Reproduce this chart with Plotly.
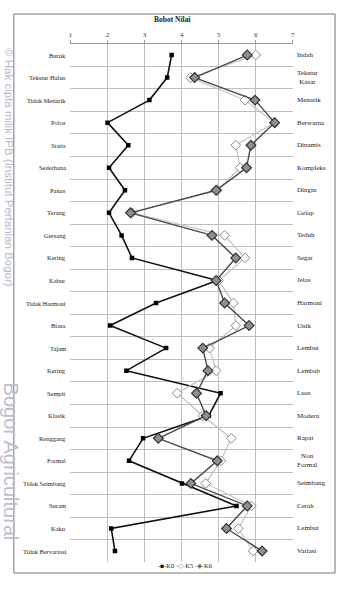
import plotly.graph_objects as go

W, H = 339, 594

left_labels = ["Buruk", "Tekstur Halus", "Tidak Menarik", "Polos", "Statis", "Sederhana",
               "Panas", "Terang", "Gersang", "Kering", "Kabur", "Tidak Harmoni", "Biasa",
               "Tajam", "Kering", "Sempit", "Klasik", "Renggang", "Formal", "Tidak Seimbang",
               "Suram", "Kaku", "Tidak Bervariasi"]
right_labels = ["Indah", "Tekstur<br>Kasar", "Menarik", "Berwarna", "Dinamis", "Kompleks",
                "Dingin", "Gelap", "Teduh", "Segar", "Jelas", "Harmoni", "Unik",
                "Lembut", "Lembab", "Luas", "Modern", "Rapat", "Non<br>Formal", "Seimbang",
                "Cerah", "Lembut", "Variasi"]

K0 = [3.73, 3.61, 3.13, 2.00, 2.56, 2.04, 2.47, 2.04, 2.38, 2.66, 4.96, 3.31, 2.07,
      3.58, 2.51, 5.05, 4.73, 2.96, 2.58, 4.01, 5.48, 2.10, 2.20]
K5 = [6.00, 4.24, 5.71, 6.51, 5.46, 5.58, 4.96, 2.66, 5.16, 5.71, 5.00, 5.40, 5.46,
      4.75, 4.93, 3.88, 4.57, 5.34, 5.06, 4.65, 5.88, 5.53, 5.93]
K6 = [5.77, 4.35, 5.98, 6.51, 5.87, 5.75, 4.93, 2.62, 4.82, 5.46, 4.93, 5.16, 5.82,
      4.57, 4.71, 4.40, 4.66, 3.37, 4.96, 4.25, 5.77, 5.21, 6.17]
x_ticks = [1, 2, 3, 4, 5, 6, 7]

rows = list(range(len(left_labels)))
SERIF = "Liberation Serif"

fig = go.Figure()
fig.add_trace(go.Scatter(x=K0, y=rows, mode="lines+markers", name="K0",
                         line=dict(color="#111111", width=1.6),
                         marker=dict(symbol="square", size=4.5, color="#000000")))
fig.add_trace(go.Scatter(x=K5, y=rows, mode="lines+markers", name="K5",
                         line=dict(color="#bdbdbd", width=1.1),
                         marker=dict(symbol="diamond", size=7.5, color="#ffffff",
                                     line=dict(color="#8a8a8a", width=1))))
fig.add_trace(go.Scatter(x=K6, y=rows, mode="lines+markers", name="K6",
                         line=dict(color="#4a4a4a", width=1.4),
                         marker=dict(symbol="diamond", size=7.5, color="#8f8f8f",
                                     line=dict(color="#333333", width=1.2))))

def px(x):
    return x / W

def py(y):
    return 1 - y / H

ann = []
for i, t in enumerate(left_labels):
    ann.append(dict(x=px(66.5), y=i, xref="paper", yref="y", text=t, showarrow=False,
                    xanchor="right", yanchor="middle", font=dict(family=SERIF, size=6.5, color="#222")))
for i, t in enumerate(right_labels):
    ann.append(dict(x=px(297), y=i, xref="paper", yref="y", text=t, showarrow=False,
                    xanchor="left", yanchor="middle", align="center",
                    font=dict(family=SERIF, size=7, color="#222")))
ann.append(dict(x=px(172), y=py(20), xref="paper", yref="paper", text="<b>Bobot Nilai</b>",
                showarrow=False, xanchor="center", yanchor="middle",
                font=dict(family=SERIF, size=7.5, color="#222")))
ann.append(dict(x=px(186), y=py(565), xref="paper", yref="paper", showarrow=False,
                xanchor="center", yanchor="middle",
                text="<span style='color:#000'>-■-</span>K0 <span style='color:#888'>-◇-</span>K5 "
                     "<span style='color:#555'>-◈-</span>K6",
                font=dict(family=SERIF, size=6.5, color="#222")))
ann.append(dict(x=px(7), y=py(168), xref="paper", yref="paper", showarrow=False, textangle=90,
                xanchor="center", yanchor="middle",
                text="© Hak cipta milik IPB (Institut Pertanian Bogor)",
                font=dict(family="Liberation Sans", size=11.5, color="#b4bccb")))
ann.append(dict(x=px(9.5), y=py(462), xref="paper", yref="paper", showarrow=False, textangle=90,
                xanchor="center", yanchor="middle",
                text="Bogor Agricultural",
                font=dict(family="Liberation Sans", size=20, color="#b9c0cc")))

fig.update_layout(
    width=W, height=H, margin=dict(l=0, r=0, t=0, b=0),
    paper_bgcolor="white", plot_bgcolor="white", showlegend=False,
    annotations=ann,
    shapes=[dict(type="rect", xref="paper", yref="paper", x0=px(12), x1=px(337),
                 y0=py(573), y1=py(14), line=dict(color="#777777", width=1))],
    xaxis=dict(domain=[px(69.3), px(294.3)], range=[1, 7], side="top",
               tickvals=x_ticks, ticktext=[str(v) for v in x_ticks],
               tickfont=dict(family=SERIF, size=7, color="#333"),
               showgrid=True, gridcolor="#bdbdbd", gridwidth=1,
               showline=True, linecolor="#999999", linewidth=1, mirror=False,
               ticks="outside", ticklen=3, tickcolor="#999999", zeroline=False,
               fixedrange=True),
    yaxis=dict(domain=[py(562.3), py(43.75)], range=[22.5, -0.5],
               tickvals=[i + 0.5 for i in range(len(left_labels) - 1)],
               showticklabels=False, ticks="", showgrid=True, gridcolor="#bdbdbd",
               gridwidth=1, zeroline=False, showline=False, fixedrange=True),
)

fig.write_html("out.html")
